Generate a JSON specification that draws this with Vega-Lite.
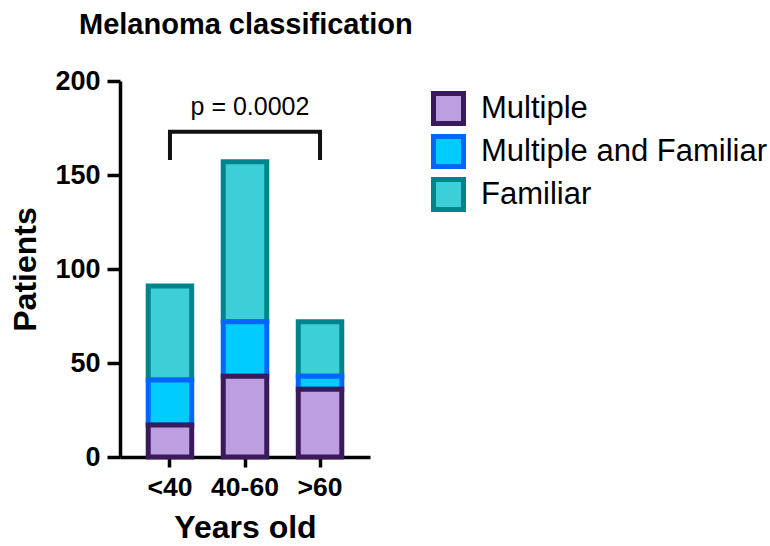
{
  "$schema": "https://vega.github.io/schema/vega-lite/v6.json",
  "width": 250,
  "height": 376,
  "autosize": "none",
  "padding": {"left": 120, "top": 81, "right": 400, "bottom": 89},
  "background": "white",
  "config": {
    "font": "Liberation Sans",
    "view": {"stroke": null},
    "axis": {"grid": false, "domainColor": "black", "tickColor": "black", "labelColor": "black", "titleColor": "black", "labelFont": "Liberation Sans", "titleFont": "Liberation Sans"}
  },
  "title": {
    "text": "Melanoma classification",
    "anchor": "start",
    "frame": "group",
    "dx": -41,
    "fontSize": 29,
    "fontWeight": "bold",
    "font": "Liberation Sans",
    "color": "black",
    "baseline": "alphabetic",
    "offset": 4
  },
  "layer": [
    {
      "data": {
        "values": [
          {"age": "<40", "cat": "Familiar", "n": 50},
          {"age": "40-60", "cat": "Familiar", "n": 85},
          {"age": ">60", "cat": "Familiar", "n": 29},
          {"age": "<40", "cat": "Multiple and Familiar", "n": 24},
          {"age": "40-60", "cat": "Multiple and Familiar", "n": 29},
          {"age": ">60", "cat": "Multiple and Familiar", "n": 7},
          {"age": "<40", "cat": "Multiple", "n": 17},
          {"age": "40-60", "cat": "Multiple", "n": 43},
          {"age": ">60", "cat": "Multiple", "n": 36}
        ]
      },
      "transform": [
        {"calculate": "indexof(['Multiple', 'Multiple and Familiar', 'Familiar'], datum.cat)", "as": "stackorder"}
      ],
      "mark": {"type": "bar", "strokeWidth": 5},
      "encoding": {
        "x": {
          "field": "age", "type": "nominal", "sort": ["<40", "40-60", ">60"],
          "scale": {"paddingInner": 0.42, "paddingOuter": 0.376},
          "axis": {"title": "Years old", "titleFontSize": 32, "titleFontWeight": "bold", "titlePadding": 12,
                   "labelAngle": 0, "labelFontSize": 26.5, "labelFontWeight": "bold", "labelPadding": 7,
                   "tickSize": 10, "tickWidth": 3.5, "domainWidth": 3.5}
        },
        "y": {
          "field": "n", "type": "quantitative", "stack": "zero",
          "scale": {"domain": [0, 200]},
          "axis": {"title": "Patients", "titleFontSize": 32, "titleFontWeight": "bold", "titlePadding": 12,
                   "values": [0, 50, 100, 150, 200], "labelFontSize": 27, "labelFontWeight": "bold", "labelPadding": 7,
                   "tickSize": 13, "tickWidth": 3.5, "domainWidth": 3.5}
        },
        "order": {"field": "stackorder", "type": "quantitative", "sort": "ascending"},
        "fill": {
          "field": "cat", "type": "nominal", "sort": ["Multiple", "Multiple and Familiar", "Familiar"],
          "scale": {"domain": ["Multiple", "Multiple and Familiar", "Familiar"], "range": ["#BD9EDE", "#00CCFF", "#3DCFD8"]},
          "legend": {"title": null, "orient": "none", "legendX": 311, "legendY": 10, "labelFontSize": 31, "labelFont": "Liberation Sans", "labelColor": "black",
                     "symbolType": "square", "symbolSize": 900, "symbolStrokeWidth": 5, "labelOffset": 15, "rowPadding": -9.5, "labelLimit": 400}
        },
        "stroke": {
          "field": "cat", "type": "nominal", "sort": ["Multiple", "Multiple and Familiar", "Familiar"],
          "scale": {"domain": ["Multiple", "Multiple and Familiar", "Familiar"], "range": ["#3A1A5C", "#0066FF", "#00848C"]},
          "legend": {"title": null, "orient": "none", "legendX": 311, "legendY": 10, "labelFontSize": 31, "labelFont": "Liberation Sans", "labelColor": "black",
                     "symbolType": "square", "symbolSize": 900, "symbolStrokeWidth": 5, "labelOffset": 15, "rowPadding": -9.5, "labelLimit": 400}
        }
      }
    },
    {
      "data": {
        "values": [
          {"age": "<40", "y": 158, "idx": 1},
          {"age": "<40", "y": 173, "idx": 2},
          {"age": ">60", "y": 173, "idx": 3},
          {"age": ">60", "y": 158, "idx": 4}
        ]
      },
      "mark": {"type": "line", "color": "#111111", "strokeWidth": 4, "strokeCap": "butt"},
      "encoding": {
        "x": {"field": "age", "type": "nominal", "sort": ["<40", "40-60", ">60"]},
        "y": {"field": "y", "type": "quantitative"},
        "order": {"field": "idx", "type": "quantitative"}
      }
    },
    {
      "data": {"values": [{"age": "40-60", "y": 186, "label": "p = 0.0002"}]},
      "mark": {"type": "text", "fontSize": 25, "font": "Liberation Sans", "color": "black", "dx": 5, "baseline": "middle"},
      "encoding": {
        "x": {"field": "age", "type": "nominal", "sort": ["<40", "40-60", ">60"]},
        "y": {"field": "y", "type": "quantitative"},
        "text": {"field": "label"}
      }
    }
  ]
}
